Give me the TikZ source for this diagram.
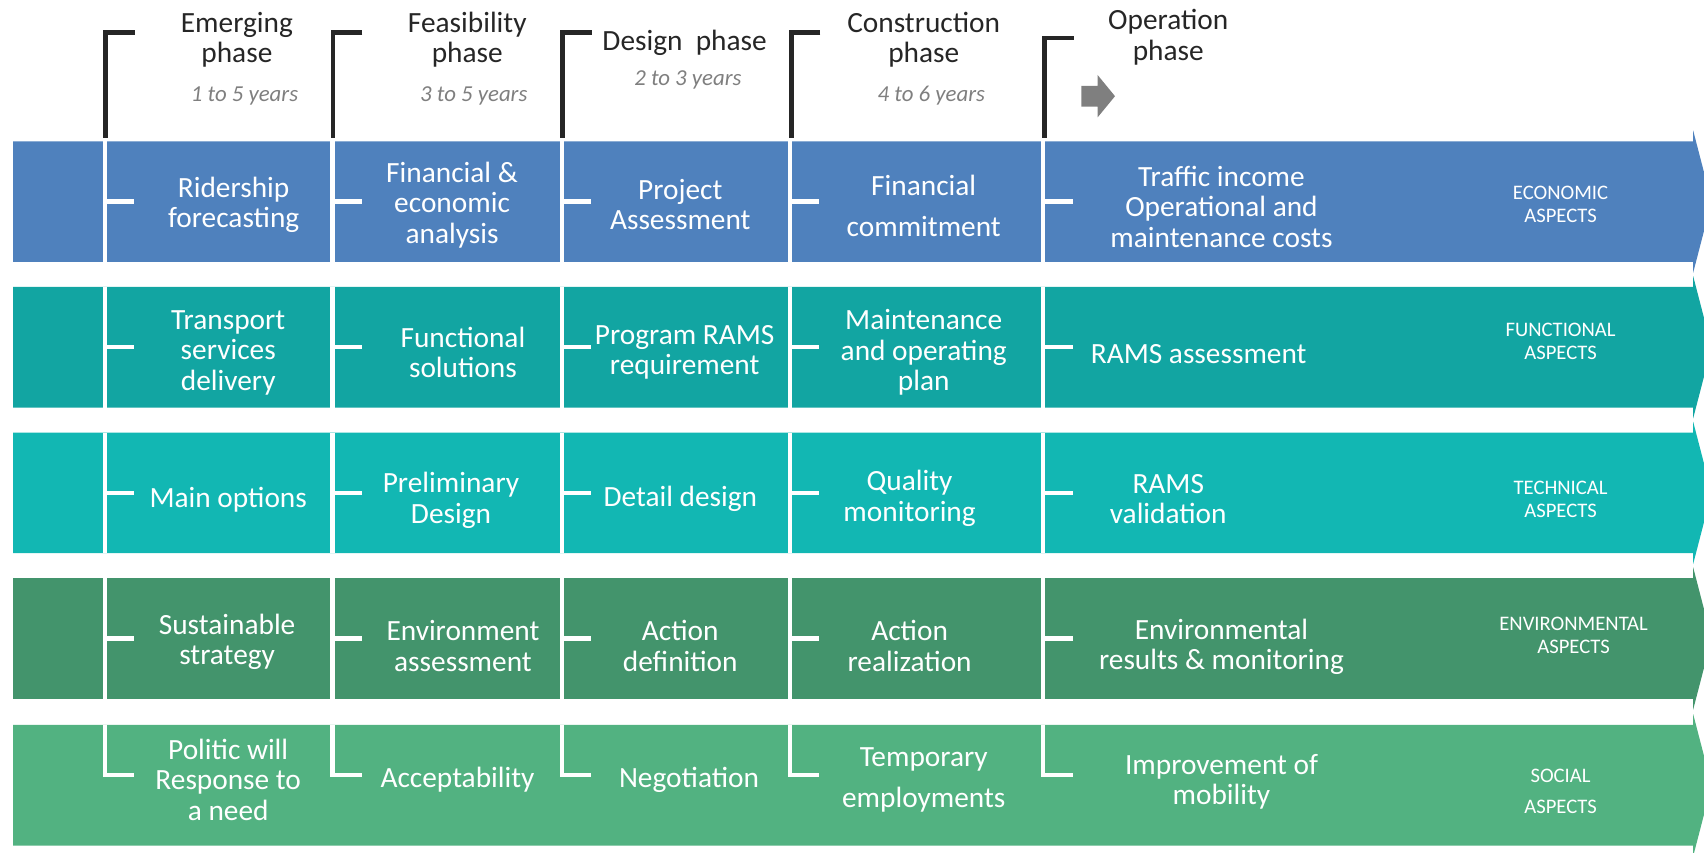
\documentclass[tikz,border=0pt]{standalone}
\usepackage{fontspec}
\setmainfont{Carlito}
\definecolor{rowA}{HTML}{4F81BD}
\definecolor{rowB}{HTML}{12A5A2}
\definecolor{rowC}{HTML}{12B7B3}
\definecolor{rowD}{HTML}{43946C}
\definecolor{rowE}{HTML}{52B281}
\definecolor{ink}{HTML}{262626}
\definecolor{soft}{HTML}{7F7F7F}
\tikzset{
  divider/.style={draw=white, line width=2pt, line join=miter},
  bracket/.style={draw=ink, line width=2.2pt, line join=miter},
  label/.style={inner sep=0pt, yshift=-1.2pt},
  cell/.style={label, text=white, align=center, font=\fontsize{13.5}{14}\selectfont},
  aspect/.style={label, text=white, align=center, font=\fontsize{9.5}{10.5}\selectfont},
  header/.style={label, text=ink, align=center, font=\fontsize{13.5}{14}\selectfont},
  years/.style={label, text=soft, font=\fontsize{10.5}{12}\selectfont\itshape},
}
\begin{document}
\begin{tikzpicture}[x=0.5pt, y=-0.5pt]
\useasboundingbox (0,0) rectangle (1568,784);

% the five aspect bands, each ending in a chevron head
\foreach \ry/\col in {130/rowA,264/rowB,398/rowC,532/rowD,667/rowE}{
  \fill[\col] (12,\ry) -- (1558,\ry) -- (1558,\ry-10) -- (1575,\ry+55.5)
    -- (1558,\ry+121) -- (1558,\ry+111) -- (12,\ry+111) -- cycle;
}

% white column separators with their side ticks
\foreach \ry in {130,264,398,532}{
  \foreach \dx in {96.5,306,517,727,960}{
    \draw[divider] (\dx,\ry) -- (\dx,\ry+111);
    \draw[divider] (\dx,\ry+55.5) -- (\dx+27,\ry+55.5);
  }
}
\foreach \dx in {96.5,306,517,727,960}{
  \draw[divider] (\dx,667) -- (\dx,713) -- (\dx+27,713);
}

% phase brackets
\foreach \dx/\bt in {97/30,306.5/30,517.5/30,728/30,961/35}{
  \draw[bracket] (\dx+27,\bt) -- (\dx,\bt) -- (\dx,127);
}

% arrow into the operation phase
\fill[soft] (995,79) -- (1010,79) -- (1010,69) -- (1026,88.5) -- (1010,108)
  -- (1010,98) -- (995,98) -- cycle;

% phase headings
\node[header] (h1) at (218,34) {Emerging\\phase};
\node[years]  (y1) at (225,86) {1 to 5 years};
\node[header] (h2) at (430,34) {Feasibility\\phase};
\node[years]  (y2) at (436,86) {3 to 5 years};
\node[header] (h3) at (630,37) {Design\ \ phase};
\node[years]  (y3) at (633,71) {2 to 3 years};
\node[header] (h4) at (850,34) {Construction\\phase};
\node[years]  (y4) at (857,86) {4 to 6 years};
\node[header] (h5) at (1075,32) {Operation\\phase};

% economic aspects
\node[cell] (c11) at (215,186) {Ridership\\forecasting};
\node[cell] (c12) at (416,186) {Financial \&\\economic\\analysis};
\node[cell] (c13) at (626,186) {Project\\Assessment};
\node[cell] (c14) at (850,187) {Financial\\[5pt]commitment};
\node[cell] (c15) at (1124,188) {Traffic income\\Operational and\\maintenance costs};
\node[aspect] (a1) at (1436,186) {ECONOMIC\\ASPECTS};

% functional aspects
\node[cell] (c21) at (210,322) {Transport\\services\\delivery};
\node[cell] (c22) at (426,322) {Functional\\solutions};
\node[cell] (c23) at (630,322) {Program RAMS\\requirement};
\node[cell] (c24) at (850,322) {Maintenance\\and operating\\plan};
\node[cell] (c25) at (1103,323) {RAMS assessment};
\node[aspect] (a2) at (1436,312) {FUNCTIONAL\\ASPECTS};

% technical aspects
\node[cell] (c31) at (210,457) {Main options};
\node[cell] (c32) at (415,458) {Preliminary\\Design};
\node[cell] (c33) at (626,457) {Detail design};
\node[cell] (c34) at (837,456) {Quality\\monitoring};
\node[cell] (c35) at (1075,457) {RAMS\\validation};
\node[aspect] (a3) at (1436,457) {TECHNICAL\\ASPECTS};

% environmental aspects
\node[cell] (c41) at (209,588) {Sustainable\\strategy};
\node[cell] (c42) at (426,592) {Environment\\assessment};
\node[cell] (c43) at (626,592) {Action\\definition};
\node[cell] (c44) at (837,592) {Action\\realization};
\node[cell] (c45) at (1124,593) {Environmental\\results \& monitoring};
\node[aspect] (a4) at (1448,582) {ENVIRONMENTAL\\ASPECTS};

% social aspects
\node[cell] (c51) at (210,715) {Politic will\\Response to\\a need};
\node[cell] (c52) at (421,715) {Acceptability};
\node[cell] (c53) at (634,715) {Negotiation};
\node[cell] (c54) at (850,715) {Temporary\\[5pt]employments};
\node[cell] (c55) at (1124,717) {Improvement of\\mobility};
\node[aspect] (a5) at (1436,726) {SOCIAL\\[4pt]ASPECTS};
\end{tikzpicture}
\end{document}
